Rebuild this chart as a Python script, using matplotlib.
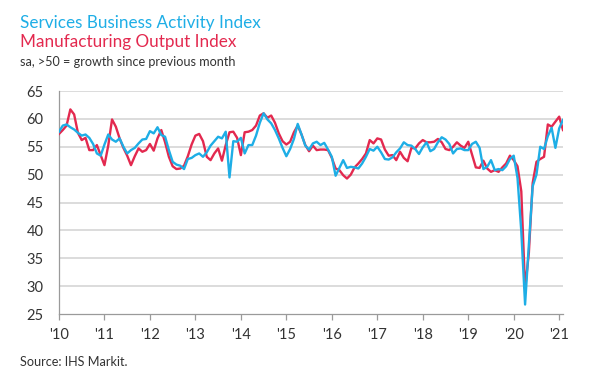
import matplotlib
matplotlib.use("Agg")
import matplotlib.pyplot as plt
import numpy as np

# Monthly data, Jan 2010 .. Feb 2021
start_year = 2010
services = [
    57.7, 58.8, 59.0, 58.5, 58.1, 57.5, 57.0, 57.2, 56.6, 55.5, 53.8, 53.4,   # 2010
    55.4, 57.2, 56.3, 55.9, 56.5, 55.0, 53.8, 54.4, 54.8, 55.6, 56.3, 56.4,   # 2011
    57.8, 57.4, 58.5, 57.1, 56.8, 54.4, 52.3, 51.8, 51.6, 51.0, 52.8, 53.0,   # 2012
    53.5, 53.8, 53.2, 54.0, 55.2, 56.0, 56.8, 56.5, 57.7, 49.5, 56.0, 55.9,   # 2013
    56.6, 53.8, 55.3, 55.3, 57.0, 59.3, 61.0, 59.9, 59.2, 58.0, 56.5, 54.8,   # 2014
    53.3, 54.6, 56.4, 59.1, 57.2, 55.2, 54.5, 55.6, 55.9, 55.3, 55.7, 54.5,   # 2015
    53.2, 49.8, 51.2, 52.6, 51.2, 51.4, 51.3, 51.1, 52.0, 53.2, 54.6, 54.3,   # 2016
    55.0, 54.0, 52.8, 52.7, 53.1, 54.0, 54.7, 55.8, 55.3, 55.2, 54.6, 53.7,   # 2017
    54.9, 55.8, 54.2, 54.6, 55.8, 56.7, 56.3, 55.5, 53.8, 54.6, 54.7, 54.4,   # 2018
    54.4, 55.5, 55.9, 54.8, 51.0, 51.4, 52.6, 50.8, 51.0, 50.8, 51.5, 52.8,   # 2019
    53.4, 49.4, 39.8, 26.7, 37.5, 47.9, 50.0, 55.0, 54.6, 56.9, 58.4, 54.8,   # 2020
    58.3, 59.8,                                                               # 2021
]
manufacturing = [
    57.3, 58.0, 58.8, 61.7, 60.8, 57.5, 56.2, 56.6, 54.4, 54.4, 55.3, 53.5,   # 2010
    51.7, 55.2, 59.9, 58.6, 56.5, 54.8, 53.4, 51.7, 53.3, 54.7, 54.1, 54.4,   # 2011
    55.5, 54.3, 56.5, 58.0, 55.8, 53.2, 51.5, 51.0, 51.1, 51.6, 53.3, 55.4,   # 2012
    57.0, 57.3, 56.0, 53.2, 52.6, 53.8, 54.7, 52.5, 55.3, 57.6, 57.7, 56.6,   # 2013
    53.5, 57.6, 57.7, 58.0, 58.8, 60.6, 61.0, 60.2, 60.6, 59.3, 57.4, 56.0,   # 2014
    55.4, 55.9, 57.6, 58.8, 57.2, 55.3, 54.2, 55.2, 54.4, 54.5, 54.5, 54.4,   # 2015
    53.0, 51.1, 50.8, 49.9, 49.3, 50.0, 51.3, 52.0, 52.8, 53.8, 56.2, 55.6,   # 2016
    56.5, 56.3, 54.5, 53.4, 53.5, 52.6, 54.1, 53.0, 52.4, 54.8, 54.7, 55.6,   # 2017
    56.2, 55.8, 55.8, 55.9, 56.4, 55.8, 54.6, 54.4, 55.0, 55.8, 55.2, 54.8,   # 2018
    55.9, 53.6, 51.3, 51.2, 52.5, 51.1, 50.5, 50.8, 50.5, 51.3, 52.0, 53.4,   # 2019
    52.6, 51.5, 47.0, 29.5, 36.0, 48.5, 52.3, 52.8, 53.2, 59.0, 58.6, 59.5,   # 2020
    60.4, 58.0,                                                               # 2021
]
year_labels = ["'10", "'11", "'12", "'13", "'14", "'15", "'16", "'17", "'18", "'19", "'20", "'21"]
y_ticks = [25, 30, 35, 40, 45, 50, 55, 60, 65]

BLUE = "#1EAEE6"
RED = "#E3294F"
GRID = "#D9D9D9"
TXT = "#333333"
FONT = ["Lato", "DejaVu Sans"]
plt.rcParams["font.family"] = FONT

fig = plt.figure(figsize=(6.0, 3.77), dpi=100)
ax = fig.add_axes([0.0983, 0.1671, 0.8400, 0.5915])

months = np.arange(len(services))
ax.plot(np.arange(len(manufacturing)), manufacturing, color=RED, lw=1.7,
        solid_joinstyle="round", zorder=3)
ax.plot(months, services, color=BLUE, lw=1.7, solid_joinstyle="round", zorder=4)

ax.set_ylim(25, 65)
ax.set_xlim(0, 133)
ax.set_yticks(y_ticks)
ax.set_yticklabels([str(v) for v in y_ticks])
ax.set_xticks([12 * k for k in range(len(year_labels))])
ax.set_xticklabels(year_labels)

for v in y_ticks[1:]:
    ax.axhline(v, color=GRID, lw=1.3, zorder=1)

for s in ["top", "right"]:
    ax.spines[s].set_visible(False)
ax.spines["left"].set_color("#9A9A9A")
ax.spines["left"].set_linewidth(0.9)
ax.spines["bottom"].set_color("#9A9A9A")
ax.spines["bottom"].set_linewidth(0.9)

ax.tick_params(axis="y", length=0, pad=11, labelsize=10.5, labelcolor=TXT)
ax.tick_params(axis="x", length=4, width=0.9, color="#9A9A9A", pad=6,
               labelsize=10.5, labelcolor=TXT)

H = 377.0
def fy(px):
    return 1 - px / H

fig.text(20 / 600, fy(28), "Services Business Activity Index", color=BLUE,
         fontsize=12.3, va="baseline", ha="left")
fig.text(20 / 600, fy(47), "Manufacturing Output Index", color=RED,
         fontsize=12.3, va="baseline", ha="left")
fig.text(20 / 600, fy(66), "sa, >50 = growth since previous month", color=TXT,
         fontsize=9.1, va="baseline", ha="left")
fig.text(20 / 600, fy(366), "Source: IHS Markit.", color=TXT,
         fontsize=9.1, va="baseline", ha="left")

fig.savefig("out.png", dpi=100)
